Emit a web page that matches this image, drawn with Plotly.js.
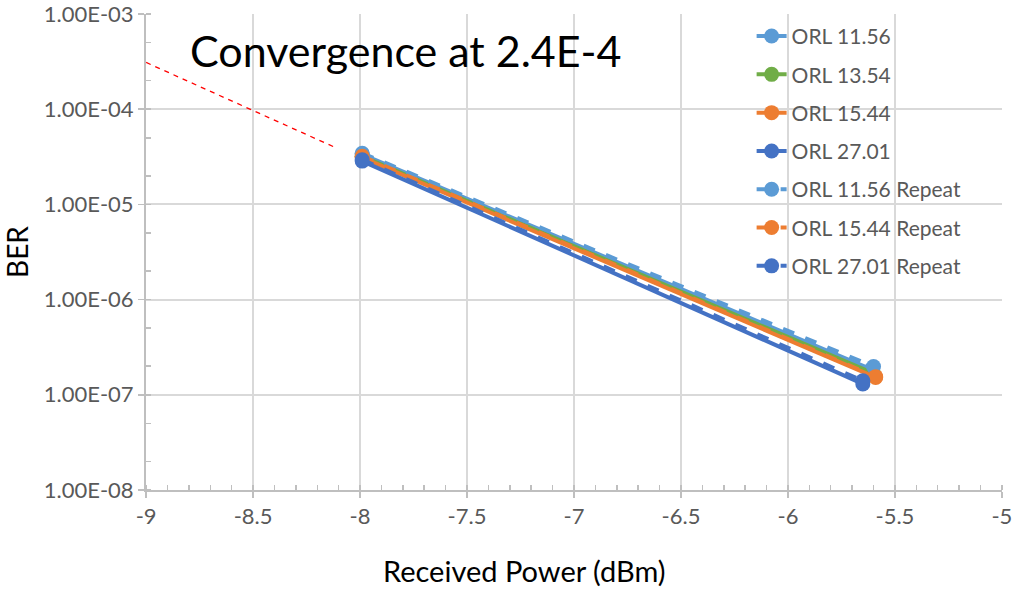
<!DOCTYPE html>
<html>
<head>
<meta charset="utf-8">
<script src="https://cdn.plot.ly/plotly-3.0.1.min.js"></script>
<style>html,body{margin:0;padding:0;background:#fff;}#chart{width:1018px;height:591px;}</style>
</head>
<body>
<div id="chart"></div>
<script>
// Series data
const seriesNames = ["ORL 11.56", "ORL 13.54", "ORL 15.44", "ORL 27.01",
                     "ORL 11.56 Repeat", "ORL 15.44 Repeat", "ORL 27.01 Repeat"];
const orl1156_x = [-7.99, -5.61];
const orl1156_y = [3.35e-5, 1.85e-7];
const orl1354_x = [-7.99, -5.60];
const orl1354_y = [3.2e-5, 1.68e-7];
const orl1544_x = [-7.99, -5.59];
const orl1544_y = [3.1e-5, 1.52e-7];
const orl2701_x = [-7.99, -5.65];
const orl2701_y = [2.85e-5, 1.30e-7];
const orl1156r_x = [-7.99, -5.60];
const orl1156r_y = [3.45e-5, 1.98e-7];
const orl1544r_x = [-7.99, -5.59];
const orl1544r_y = [3.2e-5, 1.55e-7];
const orl2701r_x = [-7.99, -5.65];
const orl2701r_y = [2.95e-5, 1.40e-7];
// Extrapolation (red dashed)
const extrap_x = [-9, -8.12];
const extrap_y = [3.1e-4, 4.0e-5];

const xTickVals = [-9, -8.5, -8, -7.5, -7, -6.5, -6, -5.5, -5];
const xTickText = ["-9", "-8.5", "-8", "-7.5", "-7", "-6.5", "-6", "-5.5", "-5"];
const yTickVals = [1e-8, 1e-7, 1e-6, 1e-5, 1e-4, 1e-3];
const yTickText = ["1.00E-08", "1.00E-07", "1.00E-06", "1.00E-05", "1.00E-04", "1.00E-03"];

const cLight = "#5B9BD5", cGreen = "#70AD47", cOrange = "#ED7D31", cDark = "#4472C4";

function tr(x, y, name, color, dash) {
  return {
    type: "scatter", mode: "lines+markers", x: x, y: y, name: name,
    legendgroup: name,
    line: {color: color, width: 4, dash: dash},
    marker: {color: color, size: 15}
  };
}

const data = [
  tr(orl1156_x, orl1156_y, seriesNames[0], cLight, "solid"),
  tr(orl1354_x, orl1354_y, seriesNames[1], cGreen, "solid"),
  tr(orl1544_x, orl1544_y, seriesNames[2], cOrange, "solid"),
  tr(orl2701_x, orl2701_y, seriesNames[3], cDark, "solid"),
  tr(orl1156r_x, orl1156r_y, seriesNames[4], cLight, "dash"),
  tr(orl1544r_x, orl1544r_y, seriesNames[5], cOrange, "dash"),
  tr(orl2701r_x, orl2701r_y, seriesNames[6], cDark, "dash"),
  {type: "scatter", mode: "lines", x: extrap_x, y: extrap_y, showlegend: false,
   line: {color: "#FF0000", width: 1.3, dash: "5px,5px"}, hoverinfo: "skip"}
];

const tickFont = {family: "Lato, sans-serif", size: 22, color: "#595959"};

const layout = {
  width: 1018, height: 591,
  margin: {l: 146, r: 16, t: 14, b: 101},
  paper_bgcolor: "#ffffff", plot_bgcolor: "#ffffff",
  showlegend: true,
  legend: {
    x: 0.7075, xanchor: "left", y: 0.996, yanchor: "top",
    bgcolor: "rgba(0,0,0,0)", font: {family: "Lato, sans-serif", size: 21, color: "#595959"},
    tracegroupgap: 8, traceorder: "grouped"
  },
  xaxis: {
    range: [-9.0005, -4.9995], tickvals: xTickVals, ticktext: xTickText,
    showgrid: true, gridcolor: "#d9d9d9", gridwidth: 2,
    showline: true, linecolor: "#bfbfbf", linewidth: 2,
    ticks: "outside", ticklen: 6, tickcolor: "#bfbfbf", tickwidth: 1.5,
    minor: {dtick: 0.1, ticks: "inside", ticklen: 5, tickcolor: "#bfbfbf", tickwidth: 1.5, showgrid: false},
    tickfont: tickFont, zeroline: false, mirror: false, ticklabeloverflow: "allow"
  },
  yaxis: {
    type: "log", range: [-8.0005, -2.9995], tickvals: yTickVals, ticktext: yTickText,
    showgrid: true, gridcolor: "#d9d9d9", gridwidth: 2,
    showline: true, linecolor: "#bfbfbf", linewidth: 2,
    ticks: "outside", ticklen: 6, tickcolor: "#bfbfbf", tickwidth: 1.5,
    minor: {ticks: "inside", ticklen: 5, tickcolor: "#bfbfbf", tickwidth: 1.5, showgrid: false},
    tickfont: tickFont, zeroline: false, ticklabeloverflow: "allow",
    title: {text: "BER", font: {family: "Lato, sans-serif", size: 28, color: "#000000"}, standoff: 16}
  },
  annotations: [
    {text: "Convergence at 2.4E-4", xref: "paper", yref: "paper", x: 0.049, y: 0.924,
     xanchor: "left", yanchor: "middle", showarrow: false,
     font: {family: "Lato, sans-serif", size: 43, color: "#000000"}},
    {text: "Received Power (dBm)", xref: "paper", yref: "paper", x: 0.4416, y: -0.170,
     xanchor: "center", yanchor: "middle", showarrow: false,
     font: {family: "Lato, sans-serif", size: 29, color: "#000000"}}
  ]
};

Plotly.newPlot("chart", data, layout, {displayModeBar: false, staticPlot: true});
</script>
</body>
</html>
